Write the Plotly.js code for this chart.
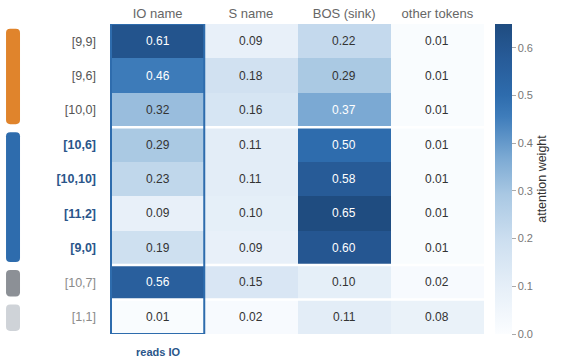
<!DOCTYPE html>
<html><head><meta charset="utf-8">
<script src="https://cdn.plot.ly/plotly-3.0.1.min.js"></script>
<style>html,body{margin:0;padding:0;background:#fff}#c{width:561px;height:364px}</style>
</head><body><div id="c"></div>
<script>
const columns = ["IO name", "S name", "BOS (sink)", "other tokens"];
const rows = ["[9,9]", "[9,6]", "[10,0]", "[10,6]", "[10,10]", "[11,2]", "[9,0]", "[10,7]", "[1,1]"];
const groups = [0, 0, 0, 1, 1, 1, 1, 2, 3];
const ioName = [0.61, 0.46, 0.32, 0.29, 0.23, 0.09, 0.19, 0.56, 0.01];
const sName = [0.09, 0.18, 0.16, 0.11, 0.11, 0.10, 0.09, 0.15, 0.02];
const bos = [0.22, 0.29, 0.37, 0.50, 0.58, 0.65, 0.60, 0.10, 0.11];
const other = [0.01, 0.01, 0.01, 0.01, 0.01, 0.01, 0.01, 0.02, 0.08];

const groupColors = ["#e0842c", "#2e6cad", "#8c9096", "#cfd3d8"];
const labelStyle = [
  t => '<span style="color:#555555">' + t + '</span>',
  t => '<b><span style="color:#2a568a">' + t + '</span></b>',
  t => '<span style="color:#8a8a8a">' + t + '</span>',
  t => '<span style="color:#8a8a8a">' + t + '</span>'
];

const series = [ioName, sName, bos, other];
const z = rows.map((r, i) => series.map(s => s[i]));
const yIdx = rows.map((r, i) => i);

const colorscale = [
  [0, "#fbfdff"], [0.15, "#e6eff8"], [0.3, "#cddff0"], [0.45, "#a9c8e3"],
  [0.57, "#7ba9d3"], [0.7, "#3f7dbb"], [0.77, "#2e6cad"], [0.89, "#275b98"], [1, "#1f4c80"]
];

const annotations = [];
rows.forEach((r, i) => {
  columns.forEach((c, j) => {
    const v = series[j][i];
    annotations.push({x: c, y: i, xref: 'x', yref: 'y', text: v.toFixed(2), showarrow: false,
      font: {size: 12, color: v >= 0.35 ? '#ffffff' : '#333333'}});
  });
});
annotations.push({x: columns[0], y: 0, xref: 'x', yref: 'paper', yshift: -10, yanchor: 'top',
  text: '<b>reads IO</b>', showarrow: false, font: {size: 11, color: '#2a568a'}});

const shapes = [];
for (let i = 1; i < rows.length; i++) {
  if (groups[i] !== groups[i - 1]) {
    shapes.push({type: 'line', xref: 'paper', yref: 'y', x0: 0, x1: 1, y0: i - 0.5, y1: i - 0.5,
      line: {color: '#ffffff', width: 2.5}});
  }
}
shapes.push({type: 'rect', xref: 'x', yref: 'y', x0: -0.5, x1: 0.5, y0: -0.5, y1: rows.length - 0.5,
  line: {color: '#2e6cad', width: 2}, fillcolor: 'rgba(0,0,0,0)'});
const gx0 = -0.278, gx1 = -0.2406, rx = 0.011, ry = 0.12;
for (let g = 0; g < groupColors.length; g++) {
  const idx = groups.map((v, i) => v === g ? i : -1).filter(i => i >= 0);
  const y0 = idx[0] - 0.36, y1 = idx[idx.length - 1] + 0.41;
  const p = `M ${gx0 + rx},${y0} L ${gx1 - rx},${y0} Q ${gx1},${y0} ${gx1},${y0 + ry} L ${gx1},${y1 - ry} Q ${gx1},${y1} ${gx1 - rx},${y1} L ${gx0 + rx},${y1} Q ${gx0},${y1} ${gx0},${y1 - ry} L ${gx0},${y0 + ry} Q ${gx0},${y0} ${gx0 + rx},${y0} Z`;
  shapes.push({type: 'path', xref: 'paper', yref: 'y', path: p, fillcolor: groupColors[g], line: {width: 0}});
}

const trace = {
  type: 'heatmap', x: columns, y: yIdx, z: z, zmin: 0, zmax: 0.65,
  colorscale: colorscale, showscale: true, hoverinfo: 'skip',
  colorbar: {x: 1.029, xanchor: 'left', xpad: 0, ypad: 0, y: 0.5, yanchor: 'middle', len: 1, lenmode: 'fraction',
    thickness: 17, outlinewidth: 0, ticks: 'outside', ticklen: 4, tickcolor: '#aaa',
    tickvals: [0, 0.1, 0.2, 0.3, 0.4, 0.5, 0.6], ticktext: ['0.0','0.1','0.2','0.3','0.4','0.5','0.6'],
    tickfont: {size: 11, color: '#777'},
    title: {text: 'attention weight', side: 'right', font: {size: 12.5, color: '#333'}}}
};

const layout = {
  width: 561, height: 364,
  margin: {l: 110, r: 77, t: 24, b: 30, autoexpand: false},
  paper_bgcolor: '#fff', plot_bgcolor: '#fff',
  font: {family: 'Liberation Sans, Arial, sans-serif'},
  xaxis: {side: 'top', showgrid: false, zeroline: false, showline: false, ticks: '',
    tickfont: {size: 13, color: '#666'}, ticklabelstandoff: 2, fixedrange: true},
  yaxis: {range: [rows.length - 0.5, -0.5], tickvals: yIdx,
    ticktext: rows.map((r, i) => labelStyle[groups[i]](r)),
    showgrid: false, zeroline: false, showline: false, ticks: '', ticklabelstandoff: 13,
    tickfont: {size: 12.5, color: '#555'}},
  shapes: shapes, annotations: annotations
};

Plotly.newPlot('c', [trace], layout, {displayModeBar: false, staticPlot: true});
</script></body></html>
